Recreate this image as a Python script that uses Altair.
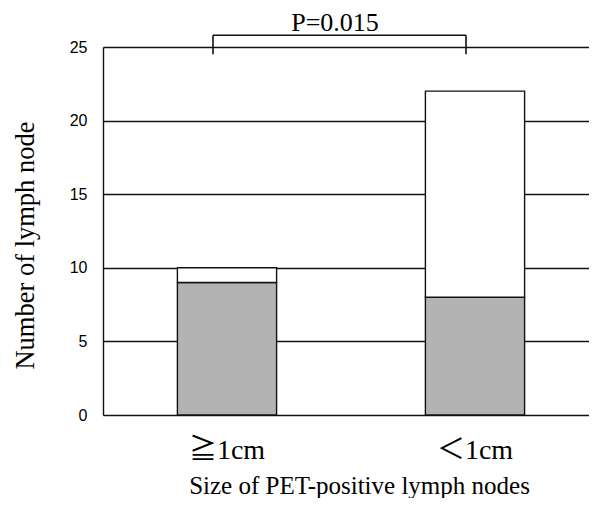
import altair as alt
import pandas as pd

categories = ["≧1cm", "＜1cm"]
positive = [9, 8]
negative = [1, 14]
p_label = "P=0.015"

rows = []
for c, p, n in zip(categories, positive, negative):
    rows.append({"cat": c, "group": "pos", "value": p, "ord": 0})
    rows.append({"cat": c, "group": "neg", "value": n, "ord": 1})
df = pd.DataFrame(rows)

ann = pd.DataFrame({"a": [categories[0]], "b": [categories[1]],
                    "top": [25.8], "bottom": [24.5], "ty": [26.6], "label": [p_label]})

xscale = alt.Scale(domain=categories, paddingInner=0.6, paddingOuter=0.3, range=[0, 496])
yscale = alt.Scale(domain=[0, 25])
serif = "Liberation Serif, Noto Sans CJK JP"

xaxis = alt.Axis(title="Size of PET-positive lymph nodes", labelAngle=0,
                 labelFont=serif, labelFontSize=28, labelColor="black",
                 labelPadding=21, ticks=False, domain=False,
                 titleFont=serif, titleFontSize=25, titleFontWeight="normal",
                 titleColor="black", titlePadding=9, titleX=256)
yaxis = alt.Axis(title="Number of lymph node", values=[0, 5, 10, 15, 20, 25],
                 labelFont="Liberation Sans", labelFontSize=16, labelColor="black",
                 labelPadding=16, ticks=False, domainColor="#111", domainWidth=1.4,
                 grid=True, gridColor="#111", gridWidth=1.4, gridOpacity=1,
                 titleFont=serif, titleFontSize=26.5, titleFontWeight="normal",
                 titleColor="black", titlePadding=30, titleY=198)

bars = alt.Chart(df).mark_bar(stroke="#111", strokeWidth=1.4).encode(
    x=alt.X("cat:N", scale=xscale, sort=categories, axis=xaxis),
    y=alt.Y("value:Q", stack="zero", scale=yscale, axis=yaxis),
    color=alt.Color("group:N", scale=alt.Scale(domain=["pos", "neg"], range=["#b3b3b3", "#ffffff"]),
                    legend=None),
    order=alt.Order("ord:Q"),
)

hline = alt.Chart(ann).mark_rule(color="#111", strokeWidth=1.6, xOffset=-14, x2Offset=-9).encode(
    x=alt.X("a:N", scale=xscale, axis=xaxis),
    x2="b:N",
    y=alt.Y("top:Q", scale=yscale, axis=yaxis),
)
lv = alt.Chart(ann).mark_rule(color="#111", strokeWidth=1.6, xOffset=-14).encode(
    x=alt.X("a:N", scale=xscale, axis=xaxis),
    y=alt.Y("top:Q", scale=yscale, axis=yaxis),
    y2="bottom:Q",
)
rv = alt.Chart(ann).mark_rule(color="#111", strokeWidth=1.6, xOffset=-9).encode(
    x=alt.X("b:N", scale=xscale, axis=xaxis),
    y=alt.Y("top:Q", scale=yscale, axis=yaxis),
    y2="bottom:Q",
)
txt = alt.Chart(ann).mark_text(font=serif, fontSize=26, color="black", dx=108, baseline="middle").encode(
    x=alt.X("a:N", scale=xscale, axis=xaxis),
    y=alt.Y("ty:Q", scale=yscale, axis=yaxis),
    text="label:N",
)

chart = alt.layer(bars, hline, lv, rv, txt).properties(
    width=486, height=368,
    autosize=alt.AutoSizeParams(type="none"),
    padding={"left": 95, "top": 39, "right": 0, "bottom": 83},
).configure_view(stroke=None).configure(background="white")

chart.save("out.html", embed_options={"renderer": "svg", "actions": False})
